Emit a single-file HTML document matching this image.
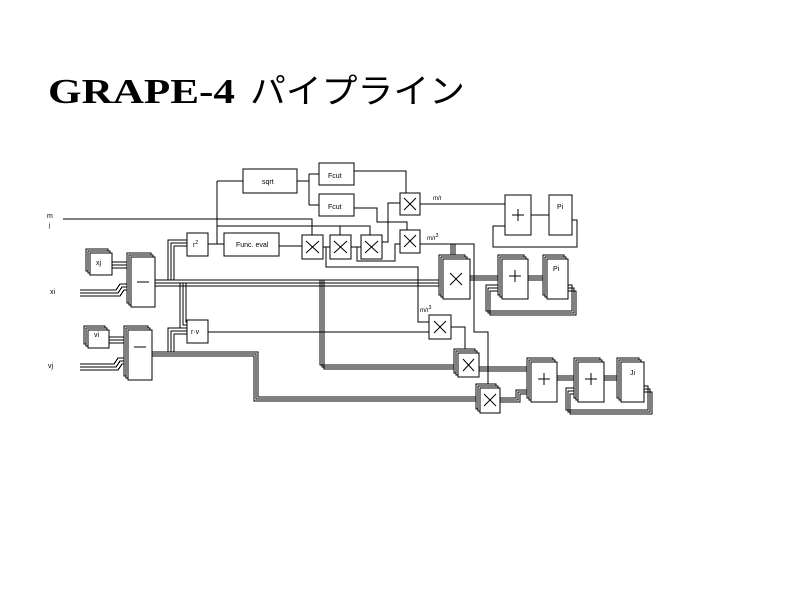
<!DOCTYPE html>
<html><head><meta charset="utf-8"><style>
html,body{margin:0;padding:0;background:#fff;}
svg{display:block}
</style></head><body>
<svg width="800" height="600" viewBox="0 0 800 600" xmlns="http://www.w3.org/2000/svg" font-family="Liberation Sans, sans-serif">
<text x="48" y="103" font-family="Liberation Serif, serif" font-weight="bold" font-size="35" textLength="187" lengthAdjust="spacingAndGlyphs">GRAPE-4</text>
<text x="250" y="103" font-family="'Noto Sans CJK JP', sans-serif" font-size="34" textLength="215" lengthAdjust="spacingAndGlyphs">パイプライン</text>

<g fill="none" stroke="#000" stroke-width="1" shape-rendering="crispEdges">
<path d="M63 219H312V235"/>
<path d="M217 181H243M217 181V244M208 244H224"/>
<path d="M217 226H370V235M340 226V235"/>
<path d="M279 246H302M323 247H330M351 247H361"/>
<path d="M297 181H309M309 174V205M309 174H319M309 205H319"/>
<path d="M354 171H406V193"/>
<path d="M354 208H377V222H407V230"/>
<path d="M382 242H388V203H400"/>
<path d="M357 247V261H395V244H400"/>
<path d="M326 247V267H418V322H429"/>
<path d="M420 204H505"/>
<path d="M420 244H474V332H488V390"/>
<path d="M531 215H549M572 220H577V247H493V226H505"/>
<path d="M451 327H465V353"/>
<path d="M208 332H429"/>
<path d="M451 244V259M453 244V259M455 244V259"/>
<path d="M112 262H131M112 265H131M112 268H131"/>
<path d="M80 290H116L120 284H131M80 293H118L122 287H131M80 296H120L124 290H131"/>
<path d="M109 337H129M109 340H129M109 343H129"/>
<path d="M80 364H114L118 358H129M80 367H116L120 361H129M80 370H118L122 364H129"/>
<path d="M154 280H443M154 283H443M154 286H443"/>
<path d="M168 280V240H187M171 280V243H187M174 280V246H187"/>
<path d="M180 283V328H187M183 283V325H187M186 283V322H187"/>
<path d="M320 280V365H458M322 280V367H458M324 280V369H458"/>
<path d="M152 352H258V397H480M152 354H256V399H480M152 356H254V401H480"/>
<path d="M168 352V328H187M171 352V331H187M174 352V334H187"/>
<path d="M470 276H502M470 278H502M470 280H502"/>
<path d="M528 276H547M528 278H547M528 280H547"/>
<path d="M568 285H572V311H486V285H498M568 288H574V313H488V288H498M568 291H576V315H490V291H498"/>
<path d="M479 367H531M479 369H531M479 371H531"/>
<path d="M500 398H516V390H527M500 400H518V392H527M500 402H520V394H527"/>
<path d="M557 376H578M557 378H578M557 380H578"/>
<path d="M604 376H621M604 378H621M604 380H621"/>
<path d="M644 386H648V410H566V388H574M644 389H650V412H568V391H574M644 392H652V414H570V394H574"/>
</g>

<g fill="#fff" stroke="#000" stroke-width="1" shape-rendering="crispEdges">
<rect x="243" y="169" width="54" height="24"/>
<rect x="319" y="163" width="35" height="22"/>
<rect x="319" y="194" width="35" height="22"/>
<rect x="400" y="193" width="20" height="22"/>
<rect x="400" y="230" width="20" height="23"/>
<rect x="505" y="195" width="26" height="40"/>
<rect x="549" y="195" width="23" height="40"/>
<rect x="187" y="233" width="21" height="23"/>
<rect x="224" y="233" width="55" height="23"/>
<rect x="302" y="235" width="21" height="24"/>
<rect x="330" y="235" width="21" height="24"/>
<rect x="361" y="235" width="21" height="24"/>
<rect x="187" y="320" width="21" height="23"/>
<rect x="429" y="315" width="22" height="24"/>
<rect x="86" y="249" width="22" height="22"/><rect x="88" y="251" width="22" height="22"/><rect x="90" y="253" width="22" height="22"/>
<rect x="127" y="253" width="24" height="50"/><rect x="129" y="255" width="24" height="50"/><rect x="131" y="257" width="24" height="50"/>
<rect x="84" y="326" width="21" height="18"/><rect x="86" y="328" width="21" height="18"/><rect x="88" y="330" width="21" height="18"/>
<rect x="124" y="326" width="24" height="50"/><rect x="126" y="328" width="24" height="50"/><rect x="128" y="330" width="24" height="50"/>
<rect x="439" y="255" width="26" height="40"/><rect x="441" y="257" width="26" height="40"/><rect x="443" y="259" width="27" height="40"/>
<rect x="498" y="255" width="26" height="40"/><rect x="500" y="257" width="26" height="40"/><rect x="502" y="259" width="26" height="40"/>
<rect x="543" y="255" width="21" height="40"/><rect x="545" y="257" width="21" height="40"/><rect x="547" y="259" width="21" height="40"/>
<rect x="454" y="349" width="21" height="24"/><rect x="456" y="351" width="21" height="24"/><rect x="458" y="353" width="21" height="24"/>
<rect x="476" y="384" width="20" height="25"/><rect x="478" y="386" width="20" height="25"/><rect x="480" y="388" width="20" height="25"/>
<rect x="527" y="358" width="26" height="40"/><rect x="529" y="360" width="26" height="40"/><rect x="531" y="362" width="26" height="40"/>
<rect x="574" y="358" width="26" height="40"/><rect x="576" y="360" width="26" height="40"/><rect x="578" y="362" width="26" height="40"/>
<rect x="617" y="358" width="22" height="40"/><rect x="619" y="360" width="22" height="40"/><rect x="621" y="362" width="23" height="40"/>
</g>

<g stroke="#000" stroke-width="1" fill="none">
<path d="M404 198L416 210M416 198L404 210"/>
<path d="M404 235L416 247M416 235L404 247"/>
<path d="M306 241L319 253M319 241L306 253"/>
<path d="M334 241L347 253M347 241L334 253"/>
<path d="M365 241L378 253M378 241L365 253"/>
<path d="M434 321L446 333M446 321L434 333"/>
<path d="M450 273L462 285M462 273L450 285"/>
<path d="M463 359L474 371M474 359L463 371"/>
<path d="M484 394L496 406M496 394L484 406"/>
<path d="M512 215H524M518 209V221"/>
<path d="M509 276H521M515 270V282"/>
<path d="M538 379H550M544 373V385"/>
<path d="M585 379H597M591 373V385"/>
<path d="M137 282H149"/>
<path d="M134 347H146"/>
</g>

<g font-size="7" fill="#000">
<text x="262" y="184">sqrt</text>
<text x="328" y="178">Fcut</text>
<text x="328" y="209">Fcut</text>
<text x="557" y="209">Pi</text>
<text x="193" y="247">r<tspan dy="-3" font-size="5">2</tspan></text>
<text x="236" y="247">Func. eval</text>
<text x="191" y="334">r·v</text>
<text x="96" y="265">xj</text>
<text x="94" y="337">vi</text>
<text x="553" y="271">Pi</text>
<text x="630" y="375">Ji</text>
<text x="47" y="218">m</text><text x="49" y="227" font-size="6">j</text>
<text x="50" y="294">xi</text>
<text x="48" y="368">vj</text>
<text x="433" y="200" font-size="6">m/r</text>
<text x="427" y="240" font-size="6">m/r<tspan dy="-3" font-size="5">3</tspan></text>
<text x="420" y="312" font-size="6">m/r<tspan dy="-3" font-size="5">3</tspan></text>
</g>
</svg>
</body></html>
